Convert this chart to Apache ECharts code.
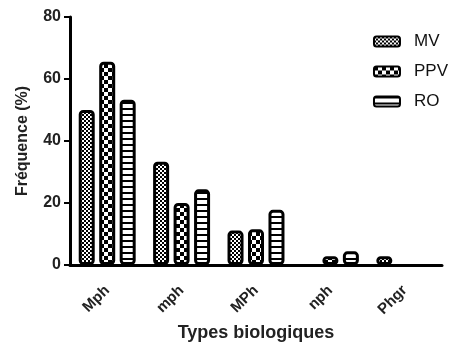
<!DOCTYPE html>
<html>
<head>
<meta charset="utf-8">
<script src="https://cdn.jsdelivr.net/npm/echarts@6/dist/echarts.min.js"></script>
<style>
  html, body { margin: 0; padding: 0; background: #fff; }
  #chart { width: 454px; height: 345px; }
</style>
</head>
<body>
<div id="chart"></div>
<script>
const categories = ['Mph', 'mph', 'MPh', 'nph', 'Phgr'];
// null = no bar drawn for that category
const mvValues = [50, 33.3, 11.1, null, 2.8];
const ppvValues = [65.6, 20, 11.5, 2.8, null];
const roValues = [53.3, 24.4, 17.8, 4.4, null];
const yTicks = [0, 20, 40, 60, 80];

// tiles for the hatch patterns
function tile(w, h, draw) {
  const c = document.createElement('canvas');
  c.width = w; c.height = h;
  const ctx = c.getContext('2d');
  ctx.fillStyle = '#fff';
  ctx.fillRect(0, 0, w, h);
  ctx.fillStyle = '#000';
  draw(ctx);
  return { image: c, repeat: 'repeat' };
}
const fineChecker = tile(4, 4, ctx => {
  ctx.fillRect(0, 0, 2, 2);
  ctx.fillRect(2, 2, 2, 2);
});
const coarseChecker = tile(8, 8, ctx => {
  ctx.fillRect(0, 0, 4, 4);
  ctx.fillRect(4, 4, 4, 4);
});
const stripes = tile(6, 6, ctx => {
  ctx.fillRect(0, 0, 6, 2);
});

const font = '"Liberation Sans", Arial, sans-serif';
const barStyle = fill => ({
  color: fill,
  borderColor: '#000',
  borderWidth: 3,
  borderRadius: 3
});

const myChart = echarts.init(document.getElementById('chart'));
myChart.setOption({
  animation: false,
  textStyle: { fontFamily: font },
  grid: { left: 70, right: 12, top: 17, bottom: 80, containLabel: false, outerBoundsMode: 'none' },
  legend: {
    orient: 'vertical',
    right: 1,
    top: 28,
    itemWidth: 26,
    itemHeight: 10,
    itemGap: 13,
    textStyle: { fontSize: 17, color: '#111', fontFamily: font, padding: [0, 0, 0, 9] },
    data: ['MV', 'PPV', 'RO']
  },
  xAxis: {
    type: 'category',
    data: categories,
    name: 'Types biologiques',
    nameLocation: 'middle',
    nameGap: 51,
    nameTextStyle: { fontSize: 18, fontWeight: 'bold', color: '#222' },
    axisLine: { lineStyle: { color: '#000', width: 3 } },
    axisTick: { alignWithLabel: true, length: 7, lineStyle: { color: '#000', width: 2 } },
    axisLabel: { rotate: 45, fontSize: 15, fontWeight: 'bold', color: '#222', margin: 23 }
  },
  yAxis: {
    type: 'value',
    min: yTicks[0],
    max: yTicks[yTicks.length - 1],
    interval: 20,
    name: 'Fréquence (%)',
    nameLocation: 'middle',
    nameGap: 39,
    nameTextStyle: { fontSize: 16, fontWeight: 'bold', color: '#222' },
    splitLine: { show: false },
    axisLine: { show: true, lineStyle: { color: '#000', width: 3 } },
    axisTick: { show: true, length: 6, lineStyle: { color: '#000', width: 2 } },
    axisLabel: { fontSize: 16, fontWeight: 'bold', color: '#222', margin: 9 }
  },
  series: [
    { name: 'MV', type: 'bar', data: mvValues, barWidth: 16, barGap: '28%', itemStyle: barStyle(fineChecker) },
    { name: 'PPV', type: 'bar', data: ppvValues, barWidth: 16, barGap: '28%', itemStyle: barStyle(coarseChecker) },
    { name: 'RO', type: 'bar', data: roValues, barWidth: 16, barGap: '28%', itemStyle: barStyle(stripes) }
  ]
});
</script>
</body>
</html>
